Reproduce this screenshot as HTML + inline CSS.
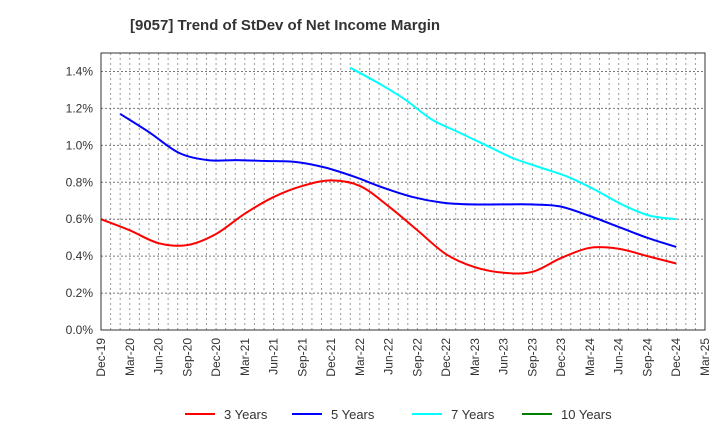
<!DOCTYPE html>
<html><head><meta charset="utf-8"><style>
body{margin:0;background:#fff;font-family:"Liberation Sans",Arial,sans-serif}
</style></head><body>
<svg id="c" width="720" height="440" xmlns="http://www.w3.org/2000/svg"></svg>
<script>
const xLabels=["Dec-19","Mar-20","Jun-20","Sep-20","Dec-20","Mar-21","Jun-21","Sep-21","Dec-21","Mar-22","Jun-22","Sep-22","Dec-22","Mar-23","Jun-23","Sep-23","Dec-23","Mar-24","Jun-24","Sep-24","Dec-24","Mar-25"];
const yTicks=[0,0.2,0.4,0.6,0.8,1.0,1.2,1.4];
const seriesNames=["3 Years","5 Years","7 Years","10 Years"];
const y3=[0.60,0.54,0.47,0.46,0.52,0.63,0.72,0.78,0.81,0.78,0.67,0.54,0.41,0.34,0.31,0.315,0.39,0.445,0.44,0.40,0.36];
const y5=[1.17,1.07,0.96,0.92,0.92,0.915,0.91,0.88,0.83,0.77,0.72,0.69,0.68,0.68,0.68,0.67,0.62,0.56,0.50,0.45];
const y7=[1.42,1.34,1.25,1.14,1.07,1.00,0.93,0.88,0.83,0.76,0.68,0.62,0.60];
const y10=[];
const starts=[0,2,26,0];
const colors=["#ff0000","#0000ff","#00ffff","#008000"];
const L=101,R=705,T=53,B=330,yMax=1.5;
const svg=document.getElementById('c');const NS='http://www.w3.org/2000/svg';
function mk(t,a,p){const e=document.createElementNS(NS,t);for(const k in a)e.setAttribute(k,a[k]);(p||svg).appendChild(e);return e;}
const xm=m=>L+m*(R-L)/63;
const yv=v=>B-v*(B-T)/yMax;
const t=mk('text',{x:130,y:30,'font-size':15,'font-weight':'bold',fill:'#333'});

t.textContent='[9057]  Trend of StDev of Net Income Margin';
const g=mk('g',{});
for(let m=1;m<63;m++)mk('line',{x1:xm(m),x2:xm(m),y1:T,y2:B,stroke:'#999','stroke-dasharray':'2,3','stroke-width':1},g);
yTicks.forEach(v=>{if(v===0)return;const y=yv(v);mk('line',{x1:L,x2:R,y1:y,y2:y,stroke:'#777','stroke-dasharray':'2,2','stroke-width':1},g);});
yTicks.forEach(v=>{const e=mk('text',{x:L-8,y:yv(v)+4,'text-anchor':'end','font-size':12,fill:'#333'});
e.textContent=v.toFixed(1)+'%';});
xLabels.forEach((s,i)=>{const x=xm(i*3);const e=mk('text',{x:x+4,y:B+8,'text-anchor':'end','font-size':12,fill:'#333',transform:`rotate(-90 ${x+4} ${B+8})`});
e.textContent=s;});
function path(pts){let d=`M${pts[0][0]},${pts[0][1]}`;for(let i=0;i<pts.length-1;i++){const p0=pts[i-1]||pts[i],p1=pts[i],p2=pts[i+1],p3=pts[i+2]||p2;
d+=` C${p1[0]+(p2[0]-p0[0])/6},${p1[1]+(p2[1]-p0[1])/6} ${p2[0]-(p3[0]-p1[0])/6},${p2[1]-(p3[1]-p1[1])/6} ${p2[0]},${p2[1]}`;}return d;}
[y3,y5,y7,y10].forEach((arr,si)=>{if(arr.length<2)return;const st=(60-starts[si])/(arr.length-1);
const pts=arr.map((v,i)=>[xm(starts[si]+i*st),yv(v)]);
const p=mk('path',{d:path(pts),fill:'none',stroke:colors[si],'stroke-width':2});
});
const f=mk('rect',{x:L,y:T,width:R-L,height:B-T,fill:'none',stroke:'#333','stroke-width':1});

const lx=[185,292,412,522];
seriesNames.forEach((s,i)=>{const lg=mk('g',{});
mk('line',{x1:lx[i],x2:lx[i]+30,y1:414,y2:414,stroke:colors[i],'stroke-width':2},lg);
const e=mk('text',{x:lx[i]+39,y:419,'font-size':13,fill:'#333'},lg);e.textContent=s;});
</script>
</body></html>
